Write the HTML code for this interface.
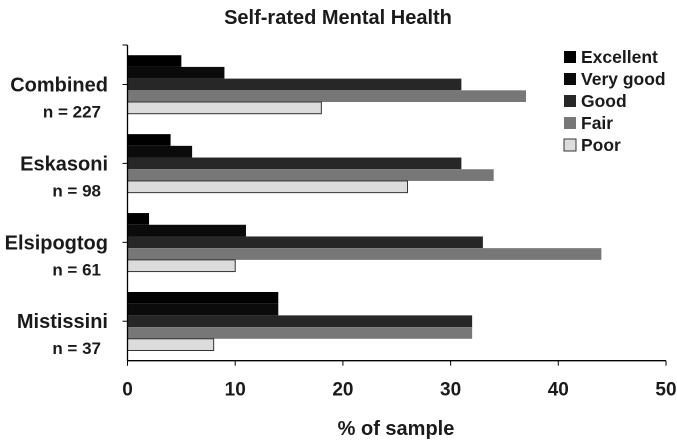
<!DOCTYPE html>
<html><head><meta charset="utf-8"><style>
html,body{margin:0;padding:0;background:#fff;}
svg{display:block;font-family:"Liberation Sans",sans-serif;font-weight:bold;}
</style></head><body>
<svg id="chart" width="677" height="441">
<text x="338" y="24" text-anchor="middle" font-size="20" fill="#1a1a1a">Self-rated Mental Health</text>
<text x="396" y="435" text-anchor="middle" font-size="20" fill="#1a1a1a">% of sample</text>
<g id="plot"></g>
</svg>
<script>
const categories = ["Combined","Eskasoni","Elsipogtog","Mistissini"];
const sampleSizes = ["n = 227","n = 98","n = 61","n = 37"];
const seriesNames = ["Excellent","Very good","Good","Fair","Poor"];
const excellent = [5,4,2,14];
const veryGood = [9,6,11,14];
const good = [31,31,33,32];
const fair = [37,34,44,32];
const poor = [18,26,10,8];
const xTicks = [0,10,20,30,40,50];
const series = [excellent, veryGood, good, fair, poor];
const colors = ["#000","#0b0b0b","#272727","#777","#dcdcdc"];
const NS="http://www.w3.org/2000/svg";
const g=document.getElementById('plot');
const x0=127.5, x1=666, yTop=45, yBot=360.7;
const xS=v=>x0+(v-0)/(50-0)*(x1-x0);
const band=(yBot-yTop)/categories.length;
const barH=11.7;
function mk(t,a){const e=document.createElementNS(NS,t);for(const k in a)e.setAttribute(k,a[k]);g.appendChild(e);return e;}
categories.forEach((c,i)=>{
  const gy=yTop+band*i;
  const start=gy+(band-barH*5)/2;
  series.forEach((s,j)=>{
    const r=mk('rect',{x:x0,y:start+j*barH,width:xS(s[i])-x0,height:barH,fill:colors[j],stroke:j==4?'#333':'none','stroke-width':1});
    
    
  });
  const cy=gy+band/2;
  const t=mk('text',{x:108,y:cy+7,'text-anchor':'end','font-size':20,fill:'#1a1a1a'});t.textContent=c;
  
  
  const n=mk('text',{x:101,y:cy+33,'text-anchor':'end','font-size':17,fill:'#1a1a1a'});n.textContent=sampleSizes[i];
  
  
  mk('line',{x1:x0-5,x2:x0,y1:cy,y2:cy,stroke:'#000'});
});
mk('line',{x1:x0-5,x2:x0,y1:yTop,y2:yTop,stroke:'#000'});
mk('line',{x1:x0,x2:x0,y1:yTop,y2:yBot,stroke:'#000','stroke-width':1.3});
mk('line',{x1:x0,x2:x1,y1:yBot,y2:yBot,stroke:'#000','stroke-width':1.3});
xTicks.forEach(v=>{
  mk('line',{x1:xS(v),x2:xS(v),y1:yBot,y2:yBot+5,stroke:'#000'});
  const t=mk('text',{x:xS(v),y:yBot+35,'text-anchor':'middle','font-size':19,fill:'#1a1a1a'});t.textContent=v;
  
  
});
seriesNames.forEach((s,j)=>{
  const y=57+j*22;
  const r=mk('rect',{x:564,y:y-6,width:12,height:12,fill:colors[j],stroke:j==4?'#333':'none'});
  
  
  const t=mk('text',{x:581,y:y+6,'font-size':17.5,fill:'#1a1a1a'});t.textContent=s;
  
  
});
</script>
</body></html>
